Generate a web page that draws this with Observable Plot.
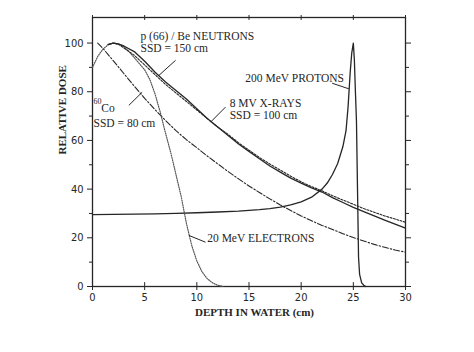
<!DOCTYPE html>
<html>
<head>
<meta charset="utf-8">
<script src="https://cdn.jsdelivr.net/npm/d3@7"></script>
<script src="https://cdn.jsdelivr.net/npm/@observablehq/plot@0.6"></script>
<style>
  html, body { margin: 0; padding: 0; background: #fff; }
  svg { display: block; }
</style>
</head>
<body>
<div id="chart"></div>
<script>
// ---- data ----
const photonDepth = [1.5,2,2.5,3,4,5,6,7,8,9,10,11,12,13,14,15,16,17,18,19,20,21,22,23,24,25,26,27,28,29,30];
const neutronDose = [99.5,100,99.6,98.8,96.5,92.5,88,84,80.5,77,73,69,65.5,62,58.5,55.5,52.5,49.5,47,44.5,42.5,40.5,38.8,36.5,34.5,32.5,30.8,29,27.3,25.6,24];
const xrayDose    = [99.3,100,99.5,98,95,91,87,83,79.5,76,72.5,69,65.5,62.5,59,56,53,50.3,47.8,45.3,43,41,39.3,37.3,35.5,33.8,32,30.5,29,27.7,26.4];

const cobaltDepth = [0.5,1,2,3,4,5,6,7,8,9,10,11,12,13,14,15,16,17,18,19,20,21,22,23,24,25,26,27,28,29,30];
const cobaltDose  = [100,97.8,92.7,87.5,82.3,77.3,72.6,68.2,64,60.3,57,53.6,50.4,47.2,44.2,41.3,38.6,36,33.5,31.2,29,27,25.1,23.4,21.7,20.1,18.7,17.3,16.1,15,14.1];

const electronDepth = [0,0.5,1,1.5,2,2.5,3,3.5,4,4.5,5,5.5,6,6.5,7,7.5,8,8.5,9,9.5,10,10.5,11,11.5,12,12.5];
const electronDose  = [90,94.5,97.5,99.3,100,99.7,98.5,96.5,94,91.5,89,85,79,71.5,63,55,46,37,26,17,10.5,6,3.2,1.5,0.5,0];

const protonDepth = [0,2,4,6,8,10,12,14,16,17,18,19,20,21,22,22.5,23,23.5,24,24.3,24.5,24.7,24.85,25,25.1,25.2,25.3,25.4,25.5,25.6,25.8,26,26.2];
const protonDose  = [29.5,29.6,29.7,29.8,30,30.3,30.6,31,31.6,32,32.6,33.5,34.8,36.7,40,42.5,46,50.5,57.5,64,74,88,96,100,93,80,68,40,12,5,1.5,0.5,0];

const xTicks = [0,5,10,15,20,25,30];
const yTicks = [0,20,40,60,80,100];
const yMinorTicks = [10,30,50,70,90];
const xLabel = "DEPTH IN WATER (cm)";
const yLabel = "RELATIVE DOSE";

// annotation text and leader lines (data coordinates)
const notes = [
  {text: "p (66) / Be NEUTRONS", x: 4.6, y: 102.6},
  {text: "SSD = 150 cm", x: 4.6, y: 97.8},
  {text: "200 MeV PROTONS", x: 14.65, y: 85.5},
  {text: "8 MV X-RAYS", x: 13.15, y: 75.2},
  {text: "SSD = 100 cm", x: 13.15, y: 70.3},
  {text: "Co", x: 0.85, y: 73.0},
  {text: "SSD = 80 cm", x: 0.1, y: 67.1},
  {text: "20 MeV ELECTRONS", x: 11.0, y: 19.6}
];
const supNotes = [{text: "60", x: 0.1, y: 76.2}];
const leaders = [
  {x1: 7.96, y1: 92.9, x2: 6.36, y2: 86.7},
  {x1: 22.97, y1: 83.5, x2: 24.57, y2: 81.2},
  {x1: 12.75, y1: 73.7, x2: 11.31, y2: 67.5},
  {x1: 3.48, y1: 74.4, x2: 4.76, y2: 79.8},
  {x1: 9.23, y1: 21.0, x2: 10.83, y2: 18.2}
];

const toRows = (xs, ys) => xs.map((x, i) => ({x, y: ys[i]}));
const ink = "#262626";
const serif = "'Liberation Serif', 'DejaVu Serif', serif";
const tickFont = "'Liberation Sans Narrow', 'DejaVu Sans Condensed', sans-serif";

const chart = Plot.plot({
  width: 474,
  height: 352,
  marginLeft: 92,
  marginRight: 69,
  marginTop: 17,
  marginBottom: 66,
  style: {background: "#fff", color: ink, fontFamily: tickFont, fontSize: "11px"},
  x: {domain: [0, 30]},
  y: {domain: [0, 110.5]},
  marks: [
    Plot.frame({stroke: ink, strokeWidth: 1.3}),
    // axes
    Plot.axisX({ticks: xTicks, tickSize: 4, tickPadding: 3, label: null, fontSize: 11, stroke: ink}),
    Plot.ruleX(xTicks, {x: d => d, y1: 0, y2: 1.6, stroke: ink}),
    Plot.axisX({anchor: "top", ticks: xTicks, tickSize: 3, tickFormat: () => "", label: null, stroke: ink}),
    Plot.ruleX(xTicks, {x: d => d, y1: 109.3, y2: 110.5, stroke: ink}),
    Plot.axisY({ticks: yTicks, tickSize: 5, tickPadding: 4, label: null, fontSize: 11, stroke: ink}),
    Plot.axisY({ticks: yMinorTicks, tickSize: 3, tickFormat: () => "", label: null, stroke: ink}),
    Plot.axisY({anchor: "right", ticks: yTicks, tickSize: 5, tickFormat: () => "", label: null, stroke: ink}),
    Plot.axisY({anchor: "right", ticks: yMinorTicks, tickSize: 3, tickFormat: () => "", label: null, stroke: ink}),
    // axis titles
    Plot.text([xLabel], {text: d => d, frameAnchor: "bottom", dy: 29, dx: 5.5, fontFamily: serif, fontWeight: "bold", fontSize: 11, fill: ink}),
    Plot.text([yLabel], {text: d => d, frameAnchor: "left", rotate: -90, dx: -30, dy: 2.5, fontFamily: serif, fontWeight: "bold", fontSize: 11, fill: ink}),
    // curves
    Plot.line(toRows(protonDepth, protonDose), {x: "x", y: "y", stroke: ink, strokeWidth: 1.3}),
    Plot.line(toRows(cobaltDepth, cobaltDose), {x: "x", y: "y", stroke: ink, strokeWidth: 1.1, strokeDasharray: "6,2,1.5,2"}),
    Plot.line(toRows(electronDepth, electronDose), {x: "x", y: "y", stroke: "#555", strokeWidth: 1.2, strokeDasharray: "1,1.3"}),
    Plot.line(toRows(photonDepth, xrayDose), {x: "x", y: "y", stroke: ink, strokeWidth: 1.1, strokeDasharray: "2,1.5"}),
    Plot.line(toRows(photonDepth, neutronDose), {x: "x", y: "y", stroke: ink, strokeWidth: 1.3}),
    // annotations
    Plot.link(leaders, {x1: "x1", y1: "y1", x2: "x2", y2: "y2", stroke: ink, strokeWidth: 1}),
    Plot.text(notes, {x: "x", y: "y", text: "text", textAnchor: "start", fontFamily: serif, fontSize: 11.5, fill: ink}),
    Plot.text(supNotes, {x: "x", y: "y", text: "text", textAnchor: "start", fontFamily: serif, fontSize: 8, fill: ink})
  ]
});
document.getElementById("chart").append(chart);
</script>
</body>
</html>
